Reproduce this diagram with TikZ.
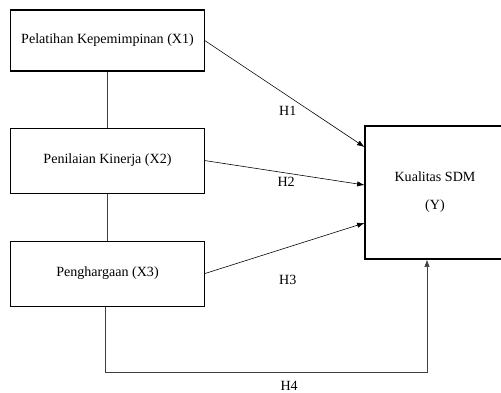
\documentclass[tikz,border=0pt]{standalone}
\usepackage{fontspec}
\setmainfont{Liberation Serif}
\usepackage{tikz}
\usetikzlibrary{shapes,arrows.meta,positioning,calc}

\begin{document}
\begin{tikzpicture}[
    varbox/.style={rectangle, draw, line width=0.9pt, minimum width=5.8cm, minimum height=1.95cm, align=center, font=\rmfamily\fontsize{12}{14}\selectfont},
    label/.style={font=\rmfamily\fontsize{12}{14}\selectfont, inner sep=1pt},
    arrow/.style={-{Latex[length=2.2mm, width=1.6mm]}, line width=0.5pt},
    link/.style={line width=0.6pt, draw=black!75}
]
\useasboundingbox (0,0) rectangle (15.03,-11.79);
\node[varbox, minimum height=1.83cm] (x1) at (3.225,-1.215) {Pelatihan Kepemimpinan (X1)};
\node[varbox, below=1.68cm of x1] (x2) {Penilaian Kinerja (X2)};
\node[varbox, below=1.41cm of x2] (x3) {Penghargaan (X3)};
\node[varbox, minimum width=4.2cm, minimum height=3.99cm] (y) at (13.05,-5.775) {Kualitas SDM\\[10pt](Y)};

\draw[link] (x1) -- (x2);
\draw[link] (x2) -- (x3);
\draw[arrow] (x1.east) -- node[label, below=0.28cm, pos=0.52] {H1} ([yshift=1.365cm]y.west);
\draw[arrow] (x2.east) -- node[label, below=0.08cm, pos=0.51] {H2} ([yshift=0.225cm]y.west);
\draw[arrow] (x3.east) -- node[label, below=0.8cm, pos=0.52] {H3} ([yshift=-0.915cm]y.west);
\draw[arrow, draw=black!75] ([xshift=-0.075cm]x3.south) -- ++(0,-1.98) -| node[label, below=0.2cm, pos=0.286] {H4} ([xshift=-0.24cm]y.south);
\end{tikzpicture}
\end{document}
